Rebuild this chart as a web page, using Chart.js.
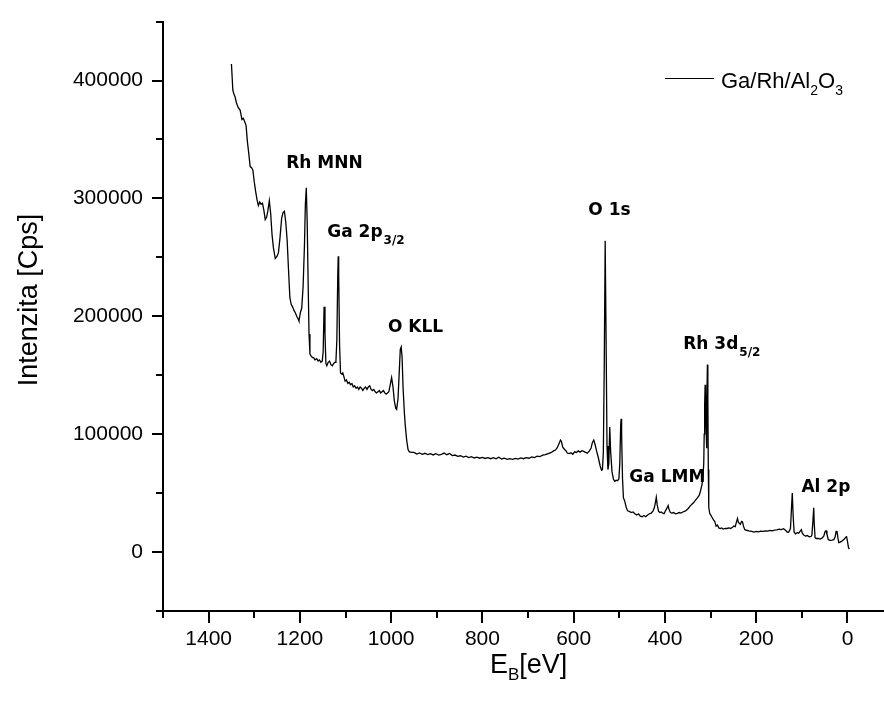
<!DOCTYPE html>
<html>
<head>
<meta charset="utf-8">
<title>XPS Ga/Rh/Al2O3</title>
<script src="https://cdn.jsdelivr.net/npm/chart.js@4.4.1/dist/chart.umd.min.js"></script>
<style>
  html, body { margin: 0; padding: 0; background: #fff; }
  #wrap { width: 884px; height: 704px; }
</style>
</head>
<body>
<div id="wrap"><canvas id="xpsChart" width="884" height="704"></canvas></div>
<script>
// binding energy (eV) and intensity (Cps)
const energy = [
  1350, 1347, 1345, 1342, 1339, 1335, 1331, 1327, 1324, 1321, 1318, 1315, 1312, 1309, 1306, 1303, 1300,
  1297, 1294, 1291, 1288, 1285, 1282, 1279, 1276, 1273, 1270, 1267, 1264, 1261, 1258, 1254, 1250, 1247,
  1244, 1240, 1237, 1234, 1231, 1228, 1225, 1222, 1219, 1216, 1213, 1210, 1207, 1204, 1202, 1199, 1196,
  1193, 1190, 1188, 1186, 1184, 1182, 1180, 1178, 1175, 1172, 1170, 1167, 1163, 1160, 1157, 1154, 1151,
  1149, 1147, 1145, 1143, 1141, 1138, 1135, 1132, 1129, 1126, 1123, 1121, 1119, 1117, 1116, 1115, 1113,
  1111, 1108, 1106, 1103, 1101, 1098, 1095, 1092, 1089, 1086, 1083, 1080, 1077, 1074, 1071, 1068, 1065,
  1062, 1059, 1056, 1053, 1050, 1047, 1044, 1041, 1038, 1035, 1032, 1029, 1026, 1023, 1020, 1017, 1014,
  1011, 1008, 1005, 1002, 999, 996, 993, 990, 988, 985, 982, 980, 978, 976, 974, 971, 969, 966, 963, 960,
  955, 950, 944, 938, 932, 926, 920, 914, 908, 902, 896, 890, 884, 878, 872, 866, 860, 854, 848, 842,
  836, 830, 824, 818, 812, 806, 800, 794, 788, 782, 776, 770, 764, 758, 752, 746, 740, 734, 728, 722,
  716, 710, 704, 698, 692, 686, 680, 674, 668, 662, 656, 650, 644, 640, 636, 632, 629, 627, 624, 620,
  617, 614, 610, 606, 602, 598, 594, 590, 586, 582, 578, 574, 570, 566, 562, 559, 556, 553, 550, 546,
  542, 539, 537, 535, 533, 531, 529, 527, 525, 523, 521, 519, 516, 513, 510, 507, 504, 501, 499, 497,
  496, 495, 493, 491, 488, 485, 482, 478, 474, 470, 466, 462, 458, 454, 450, 446, 442, 438, 434, 430,
  426, 423, 421, 419, 417, 414, 411, 408, 405, 402, 399, 396, 393, 391, 388, 385, 381, 377, 373, 369,
  365, 361, 357, 353, 349, 345, 341, 337, 333, 329, 325, 322, 319, 317, 315, 314, 313, 312, 311, 310,
  309, 308, 307, 306, 305, 304, 302, 300, 297, 294, 291, 288, 285, 282, 279, 276, 272, 268, 264, 260,
  256, 252, 249, 246, 243, 241, 239, 237, 235, 232, 230, 228, 225, 221, 216, 210, 205, 200, 195, 190,
  185, 180, 175, 170, 165, 160, 155, 150, 145, 140, 136, 132, 129, 125, 123, 121, 119, 117, 114, 110,
  107, 104, 101, 99, 96, 92, 88, 84, 80, 78, 76, 74, 73, 71, 68, 64, 60, 56, 52, 49, 47, 45, 42, 38,
  34, 30, 27, 25, 23, 21, 19, 16, 13, 10, 7, 4, 2, 0, -2, -4
];
const counts = [
  414000, 392000, 389000, 386000, 381000, 377000, 375000, 367000, 368000, 365000, 362000, 348000, 338000, 327000, 326000, 324000, 314000,
  306000, 299000, 294000, 297000, 295000, 296000, 290000, 282000, 284000, 290000, 298000, 287000, 269000, 258000, 249000, 251000, 254000,
  265000, 283000, 288000, 289000, 280000, 265000, 240000, 216000, 210000, 208000, 205000, 203000, 200000, 198000, 196000, 203000, 207000,
  225000, 260000, 295000, 309000, 280000, 230000, 185000, 168000, 166000, 165000, 165000, 163000, 164000, 162000, 163000, 161000, 162000,
  170000, 208000, 185000, 160000, 158000, 161000, 162000, 159000, 158000, 160000, 161000, 162000, 180000, 235000, 251000, 235000, 175000,
  152000, 151000, 152000, 148000, 145000, 146000, 143000, 144000, 142000, 143000, 140000, 141000, 139000, 140000, 138000, 140000, 139000,
  137000, 139000, 140000, 138000, 140000, 141000, 138000, 137000, 138000, 136000, 135000, 136000, 137000, 135000, 136000, 137000, 135000,
  134000, 135000, 136000, 142000, 148000, 140000, 128000, 122000, 121000, 130000, 155000, 172000, 174000, 165000, 140000, 118000, 107000, 95000, 87000, 85000,
  84500, 84600, 83200, 84100, 82900, 83800, 82700, 83500, 82400, 83400, 82300, 82900, 84000, 82600, 83600, 81800, 82300, 81200, 81700, 80600,
  81300, 80200, 80900, 79800, 80500, 79600, 80300, 79400, 80100, 79200, 80000, 79100, 80400, 79000, 79700, 78600, 79300, 78700, 79500, 78900,
  79800, 79200, 80100, 79600, 80700, 80200, 81300, 81000, 82200, 82600, 83500, 84300, 85800, 86500, 88500, 92000, 95000, 94000, 89000, 87000,
  86000, 84000, 83500, 84200, 83000, 85000, 84500, 85800, 84800, 86000, 85400, 84600, 83800, 85600, 88000, 93000, 95000, 91000, 86000, 80000,
  73000, 69500, 70000, 85000, 160000, 264000, 180000, 90000, 70000, 75000, 106000, 85000, 68000, 62000, 60000, 61000, 60500, 62000, 75000, 108000,
  113000, 100000, 62000, 46000, 43000, 38000, 35000, 34500, 33500, 34000, 32500, 31500, 32500, 30500, 30000, 31000, 30000, 31500, 32500, 33000,
  35000, 38000, 42000, 46500, 40000, 34500, 33500, 34000, 33000, 32500, 35000, 37000, 39500, 36000, 33500, 33000, 33500, 32500, 32800, 33500,
  33000, 34000, 34500, 35500, 37000, 39000, 40500, 42000, 44000, 46000, 48000, 52000, 57000, 63000, 75000, 100000, 125000, 142000, 135000, 105000,
  88000, 120000, 159000, 130000, 70000, 38000, 33000, 31500, 29500, 27500, 26000, 22000, 23000, 20500, 20000, 20500, 19500, 20000, 20000, 20500,
  20000, 21000, 22000, 21500, 26000, 28500, 25000, 24500, 23500, 26000, 25500, 22000, 19000, 18500, 18000, 17500, 17000, 17500, 17200, 17800,
  17500, 18000, 17700, 18300, 18000, 18600, 18800, 19400, 19000, 19800, 18500, 17000, 16800, 20000, 35000, 50000, 30000, 17000, 15500, 16500,
  16000, 17500, 19000, 16000, 14500, 13500, 14000, 13000, 13200, 14500, 25000, 37500, 25000, 12000, 11500, 11500, 11000, 11800, 13500, 17500, 18000, 15000, 10500, 10000,
  10200, 10500, 13000, 17500, 17800, 12000, 8000, 8500, 9000, 10000, 11000, 12500, 13000, 9000, 4000, 2500
];

const xTicks = [1400, 1200, 1000, 800, 600, 400, 200, 0];
const xMinor = [1500, 1300, 1100, 900, 700, 500, 300, 100];
const yTicks = [0, 100000, 200000, 300000, 400000];
const yMinor = [-50000, 50000, 150000, 250000, 350000, 450000];

// peak labels, anchored at (eV, Cps)
const peakNames = ["Rh MNN", "Ga 2p", "O KLL", "O 1s", "Rh 3d", "Ga LMM", "Al 2p"];
const peakSubs = ["", "3/2", "", "", "5/2", "", ""];
const peakEv = [1230, 1140, 1007, 568, 360, 478, 101];
const peakCps = [325700, 267500, 186500, 286100, 172200, 59100, 50600];

const seriesName = "Ga/Rh/Al";

const labelFont = "Liberation Sans, Arial, sans-serif";

// minor ticks, axis titles, legend and peak labels
const extras = {
  id: "extras",
  afterDraw(chart) {
    const ctx = chart.ctx;
    const xs = chart.scales.x;
    const ys = chart.scales.y;
    const area = chart.chartArea;
    ctx.save();
    ctx.strokeStyle = "#000";
    ctx.lineWidth = 2;
    ctx.beginPath();
    xMinor.forEach(v => {
      const px = Math.round(xs.getPixelForValue(v));
      ctx.moveTo(px, area.bottom);
      ctx.lineTo(px, area.bottom + 7);
    });
    yMinor.forEach(v => {
      const py = Math.round(ys.getPixelForValue(v));
      ctx.moveTo(area.left, py);
      ctx.lineTo(area.left - 7, py);
    });
    ctx.stroke();

    ctx.fillStyle = "#000";
    // y title
    ctx.save();
    ctx.translate(28, 300);
    ctx.rotate(-Math.PI / 2);
    ctx.font = "27px " + labelFont;
    ctx.textAlign = "center";
    ctx.textBaseline = "alphabetic";
    ctx.fillText("Intenzita [Cps]", 0, 9);
    ctx.restore();

    // x title E_B[eV]
    ctx.textAlign = "left";
    ctx.textBaseline = "alphabetic";
    let tx = 490;
    ctx.font = "27px " + labelFont;
    ctx.fillText("E", tx, 673);
    tx += ctx.measureText("E").width;
    ctx.font = "17px " + labelFont;
    ctx.fillText("B", tx, 680);
    tx += ctx.measureText("B").width;
    ctx.font = "27px " + labelFont;
    ctx.fillText("[eV]", tx, 673);

    // legend
    ctx.lineWidth = 1;
    ctx.beginPath();
    ctx.moveTo(665, 78.5);
    ctx.lineTo(714, 78.5);
    ctx.stroke();
    let lx = 721;
    ctx.font = "22px " + labelFont;
    ctx.fillText(seriesName, lx, 88);
    lx += ctx.measureText(seriesName).width;
    ctx.font = "14px " + labelFont;
    ctx.fillText("2", lx, 95);
    lx += ctx.measureText("2").width;
    ctx.font = "22px " + labelFont;
    ctx.fillText("O", lx, 88);
    lx += ctx.measureText("O").width;
    ctx.font = "14px " + labelFont;
    ctx.fillText("3", lx, 95);

    // peak labels
    peakNames.forEach((name, i) => {
      const px = xs.getPixelForValue(peakEv[i]);
      const py = ys.getPixelForValue(peakCps[i]);
      ctx.font = "bold 17px 'DejaVu Sans', Verdana, sans-serif";
      ctx.fillText(name, px, py);
      if (peakSubs[i]) {
        const w = ctx.measureText(name).width;
        ctx.font = "bold 12px 'DejaVu Sans', Verdana, sans-serif";
        ctx.fillText(peakSubs[i], px + w + 1, py + 7);
      }
    });
    ctx.restore();
  }
};

const ctx = document.getElementById("xpsChart").getContext("2d");
new Chart(ctx, {
  type: "line",
  data: {
    datasets: [{
      label: "Ga/Rh/Al2O3",
      data: energy.map((e, i) => ({ x: e, y: counts[i] })),
      borderColor: "#000",
      borderWidth: 1.3,
      pointRadius: 0,
      tension: 0,
      fill: false
    }]
  },
  options: {
    responsive: false,
    animation: false,
    layout: { padding: { top: 18, right: 0, left: 0, bottom: 0 } },
    plugins: {
      legend: { display: false },
      tooltip: { enabled: false }
    },
    scales: {
      x: {
        type: "linear",
        reverse: true,
        min: -80,
        max: 1500,
        afterBuildTicks: s => { s.ticks = xTicks.map(v => ({ value: v })); },
        afterFit: s => { s.height = 93; },
        grid: { drawOnChartArea: false, color: "#000", lineWidth: 2, tickLength: 12 },
        border: { color: "#000", width: 2 },
        ticks: {
          color: "#000",
          font: { family: labelFont, size: 21 },
          padding: 4,
          maxRotation: 0,
          autoSkip: false,
          callback: v => String(v)
        }
      },
      y: {
        type: "linear",
        min: -50000,
        max: 450000,
        afterBuildTicks: s => { s.ticks = yTicks.map(v => ({ value: v })); },
        afterFit: s => { s.width = 163; },
        grid: { drawOnChartArea: false, color: "#000", lineWidth: 2, tickLength: 11 },
        border: { color: "#000", width: 2 },
        ticks: {
          color: "#000",
          font: { family: labelFont, size: 21 },
          padding: 9,
          autoSkip: false,
          callback: v => String(v)
        }
      }
    }
  },
  plugins: [extras]
});
</script>
</body>
</html>
